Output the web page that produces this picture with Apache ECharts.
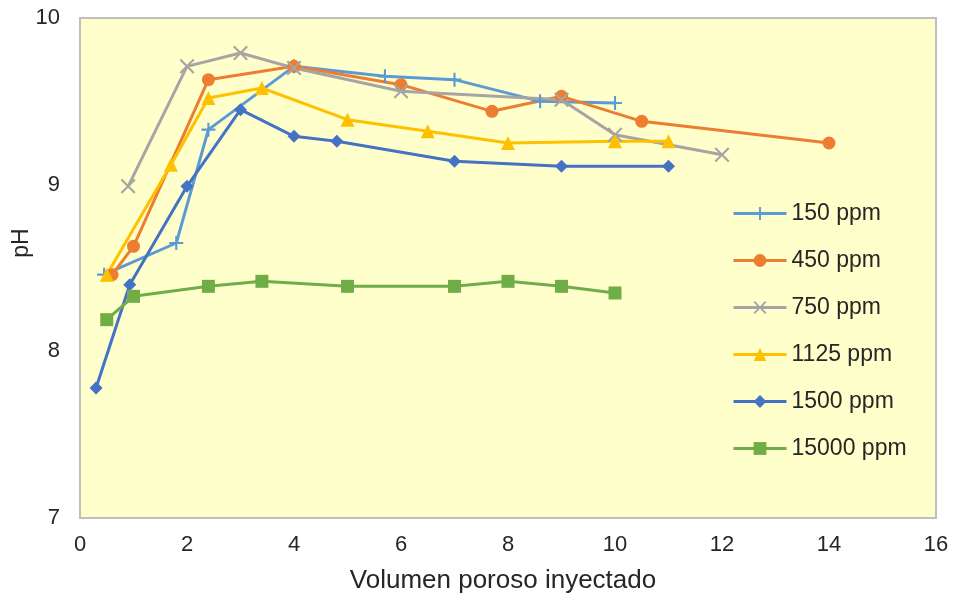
<!DOCTYPE html>
<html>
<head>
<meta charset="utf-8">
<script src="https://cdn.jsdelivr.net/npm/echarts@6/dist/echarts.min.js"></script>
<style>
    html, body { margin: 0; padding: 0; background: #ffffff; }
    #main { width: 956px; height: 602px; }
</style>
</head>
<body>
<div id="main"></div>
<script>
// valores
var names = ["150 ppm", "450 ppm", "750 ppm", "1125 ppm", "1500 ppm", "15000 ppm"];

var x150 = [0.45, 1.8, 2.4, 4, 5.7, 7, 8.6, 10];
var y150 = [8.46, 8.65, 9.33, 9.71, 9.65, 9.63, 9.5, 9.49];

var x450 = [0.6, 1, 2.4, 4, 6, 7.7, 9, 10.5, 14];
var y450 = [8.46, 8.63, 9.63, 9.71, 9.6, 9.44, 9.53, 9.38, 9.25];

var x750 = [0.9, 2, 3, 4, 6, 9, 10, 12];
var y750 = [8.99, 9.71, 9.79, 9.7, 9.56, 9.51, 9.3, 9.18];

var x1125 = [0.5, 1.7, 2.4, 3.4, 5, 6.5, 8, 10, 11];
var y1125 = [8.46, 9.12, 9.52, 9.58, 9.39, 9.32, 9.25, 9.26, 9.26];

var x1500 = [0.3, 0.93, 2, 3, 4, 4.8, 7, 9, 11];
var y1500 = [7.78, 8.4, 8.99, 9.45, 9.29, 9.26, 9.14, 9.11, 9.11];

var x15000 = [0.5, 1, 2.4, 3.4, 5, 7, 8, 9, 10];
var y15000 = [8.19, 8.33, 8.39, 8.42, 8.39, 8.39, 8.42, 8.39, 8.35];

function pares(xs, ys) {
    return xs.map(function (x, i) { return [x, ys[i]]; });
}

var plusPath = "path://M8.5,0h3v8.5h8.5v3h-8.5v8.5h-3v-8.5h-8.5v-3h8.5z";
var crossPath = "path://M2,0L10,8L18,0L20,2L12,10L20,18L18,20L10,12L2,20L0,18L8,10L0,2Z";

var fuente = "Liberation Sans, Arial, sans-serif";

function serie(name, data, color, symbol, size) {
    return {
        name: name,
        type: "line",
        data: data,
        symbol: symbol,
        symbolSize: size,
        showSymbol: true,
        lineStyle: { color: color, width: 3 },
        itemStyle: { color: color },
        emphasis: { disabled: true },
        z: 3
    };
}

var chart = echarts.init(document.getElementById("main"), null, { renderer: "canvas" });

var option = {
    animation: false,
    backgroundColor: "#ffffff",
    textStyle: { fontFamily: fuente },
    grid: {
        left: 80,
        right: 20,
        top: 18,
        bottom: 84,
        outerBoundsMode: "none",
        containLabel: false,
        show: true,
        backgroundColor: "#FFFFCC",
        borderColor: "#BFBFBF",
        borderWidth: 2
    },
    legend: {
        orient: "vertical",
        left: 727,
        top: 197,
        itemWidth: 53,
        itemHeight: 16,
        itemGap: 24,
        data: names,
        lineStyle: { width: 3 },
        textStyle: { fontSize: 23, color: "#262626", fontFamily: fuente }
    },
    xAxis: {
        type: "value",
        min: 0,
        max: 16,
        interval: 2,
        name: "Volumen poroso inyectado",
        nameLocation: "middle",
        nameGap: 50,
        nameMoveOverlap: false,
        nameTextStyle: { fontSize: 26, color: "#262626", padding: [0, 10, 0, 0] },
        axisLine: { show: false },
        axisTick: { show: false },
        splitLine: { show: false },
        axisLabel: { fontSize: 22, color: "#262626", margin: 16 }
    },
    yAxis: {
        type: "value",
        min: 7,
        max: 10,
        interval: 1,
        name: "pH",
        nameLocation: "middle",
        nameGap: 47,
        nameRotate: 90,
        nameMoveOverlap: false,
        nameTextStyle: { fontSize: 23, color: "#262626", padding: [0, 0, 0, 50] },
        axisLine: { show: false },
        axisTick: { show: false },
        splitLine: { show: false },
        axisLabel: { fontSize: 22, color: "#262626", margin: 20 }
    },
    series: [
        serie(names[0], pares(x150, y150), "#5B9BD5", plusPath, 14),
        serie(names[1], pares(x450, y450), "#ED7D31", "circle", 13),
        serie(names[2], pares(x750, y750), "#A5A5A5", crossPath, 15),
        serie(names[3], pares(x1125, y1125), "#FFC000", "triangle", 14),
        serie(names[4], pares(x1500, y1500), "#4472C4", "diamond", 13),
        serie(names[5], pares(x15000, y15000), "#70AD47", "rect", 13)
    ]
};

chart.setOption(option);
</script>
</body>
</html>
